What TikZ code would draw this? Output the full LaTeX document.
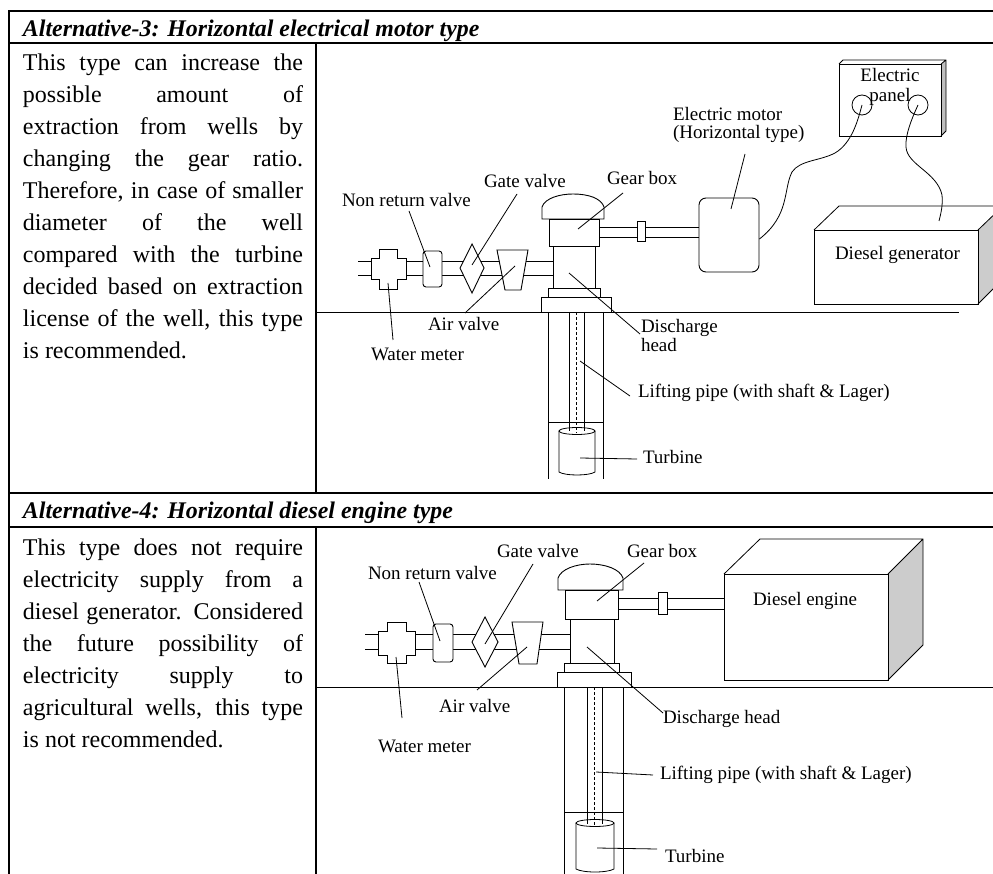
\documentclass[tikz,border=0pt]{standalone}
\usepackage{fontspec}
\setmainfont{Liberation Serif}
\usetikzlibrary{positioning, calc}
\definecolor{SideGray}{RGB}{204,204,204}
\newcommand{\jl}[1]{\hbox to 280pt{#1}}
\tikzset{
  part/.style={draw=black, fill=white, line width=0.9pt},
  wire/.style={draw=black, line width=0.8pt},
  rule/.style={draw=black, line width=1.9pt},
  lab/.style={font=\fontsize{19}{20}\selectfont, inner sep=0pt, outer sep=0pt, anchor=base west, align=left},
  body/.style={font=\fontsize{24}{32}\selectfont, inner sep=0pt, outer sep=0pt, anchor=north west, align=left},
  head/.style={font=\fontsize{23.85}{28}\selectfont\bfseries\itshape, inner sep=0pt, outer sep=0pt, anchor=base west}
}
\begin{document}
\begin{tikzpicture}[x=1pt,y=-1pt]
  \useasboundingbox (0,0) rectangle (993,874);
  \clip (0,0) rectangle (993,874);

  % table rules
  \draw[rule] (993,11) -- (9,11) -- (9,874);
  \draw[rule] (9,43) -- (993,43);
  \draw[rule] (316,43) -- (316,493);
  \draw[rule] (9,493) -- (993,493);
  \draw[rule] (9,527) -- (993,527);
  \draw[rule] (316,527) -- (316,874);

  \node[head] (headA) at (23,37) {Alternative-3: Horizontal electrical motor type};
  \node[head] (headB) at (23,518) {Alternative-4: Horizontal diesel engine type};

  \node[body] (textA) at (23,54) {\jl{This type can increase the}\\ \jl{possible amount of}\\
    \jl{extraction from wells by}\\ \jl{changing the gear ratio.}\\
    \jl{Therefore, in case of smaller}\\ \jl{diameter of the well}\\
    \jl{compared with the turbine}\\ \jl{decided based on extraction}\\
    \jl{license of the well, this type}\\ is recommended.};
  \node[body] (textB) at (23,538.5) {\jl{This type does not require}\\ \jl{electricity supply from a}\\
    \jl{diesel generator. Considered}\\ \jl{the future possibility of}\\
    \jl{electricity supply to}\\ \jl{agricultural wells, this type}\\ is not recommended.};

  % Alternative-3
  \draw[wire] (316,312) -- (959,312);
  \draw[wire] (358,261) -- (553,261) (358,275) -- (553,275);
  \draw[wire] (599,227) -- (699,227) (599,237) -- (699,237);
  \draw[part] (371,258) -- (379,258) -- (379,249) -- (397,249) -- (397,258) -- (406,258) -- (406,279) -- (397,279) -- (397,289) -- (379,289) -- (379,279) -- (371,279) -- cycle;
  \draw[part, rounded corners=3pt] (423,251) rectangle (442,287);
  \draw[part] (472,244) -- (484,268) -- (472,293) -- (460,268) -- cycle;
  \draw[part] (497,250) -- (528,250) -- (521,290) -- (505,290) -- cycle;
  \draw[part] (542,219) -- (542,207) .. controls (545,198) and (560,194) .. (573,194) .. controls (588,194) and (601,198) .. (604,207) -- (604,219) -- cycle;
  \draw[part] (549,219) rectangle (599,246);
  \draw[part] (553,246) rectangle (595,288);
  \draw[part] (548,288) rectangle (600,297);
  \draw[part] (541,297) rectangle (611,312);
  \draw[part] (637,221) rectangle (645,241);
  \draw[wire] (548,312) -- (548,479) (603,312) -- (603,479);
  \draw[wire] (569,312) -- (569,431) (584,312) -- (584,431);
  \draw[wire, dash pattern=on 3pt off 2pt] (576,312) -- (576,433);
  \draw[wire] (548,422) -- (603,422);
  \draw[wire] (559,431) -- (559,472) .. controls (565,476) and (589,476) .. (595,472) -- (595,431);
  \draw[wire] (577,431) ellipse (18 and 3.5);

  \node[part, rounded corners=7pt, minimum width=60pt, minimum height=74pt, inner sep=0pt] (motorA) at (729,235) {};
  \fill[black!25] (946,60) -- (946,131) -- (941,136) -- (941,64) -- cycle;
  \draw[wire] (839,64) -- (843,60) -- (946,60) -- (946,131) -- (941,136) (941,64) -- (946,60);
  \draw[part, fill=none] (839,64) rectangle (941,136);
  \node[draw=black, line width=0.8pt, circle, minimum size=20pt, inner sep=0pt] (sockA) at (862,105) {};
  \node[draw=black, line width=0.8pt, circle, minimum size=20pt, inner sep=0pt] (sockB) at (918,105) {};

  \fill[SideGray] (978,230) -- (1003,206) -- (1003,279) -- (978,304) -- cycle;
  \draw[wire] (814,230) -- (839,206) -- (1003,206) -- (1003,279) -- (978,304) (978,230) -- (1003,206);
  \draw[part, fill=none] (814,230) rectangle (978,304);
  \coordinate (genEnd) at (939,221);
  \draw[wire] (sockA.center) .. controls (858,120) and (852,143) .. (835,153) .. controls (820,161) and (800,160) .. (792,172) .. controls (783,190) and (790,215) .. ([yshift=-4pt]motorA.east);
  \draw[wire] (sockB.center) .. controls (912,118) and (905,135) .. (906,147) .. controls (907,165) and (937,172) .. (942,195) .. controls (943,205) and (941,213) .. (genEnd);

  \node[lab] (gearA) at (607,185) {Gear box};
  \node[lab] (gateA) at (484,188) {Gate valve};
  \node[lab] (checkA) at (342,207) {Non return valve};
  \node[lab] (meterA) at (371,360) {Water meter};
  \node[lab] (airA) at (428,331) {Air valve};
  \node[lab] (headpA) at (641,352) {Discharge\\[-1pt]head};
  \node[lab] (pipeA) at (638,398) {Lifting pipe (with shaft \& Lager)};
  \node[lab] (turbA) at (643,463) {Turbine};
  \node[lab] (elecA) at (673,139) {Electric motor\\[-2pt](Horizontal type)};
  \node[lab, align=center, anchor=base] (panelA) at (890,102) {Electric\\panel};
  \node[lab] (dieselA) at (835,260) {Diesel generator};

  \coordinate (tipGearA) at (578,229);
  \coordinate (tipGateA) at (472,265);
  \coordinate (tipCheckA) at (430,267);
  \coordinate (tipMeterA) at (388,283);
  \coordinate (tipAirA) at (515,266);
  \coordinate (tipHeadpA) at (569,273);
  \coordinate (tipPipeA) at (580,361);
  \coordinate (tipTurbA) at (580,458);
  \coordinate (tipElecA) at (731,209);

  % Alternative-4
  \draw[wire] (316,687) -- (993,687);
  \draw[wire] (365,634) -- (570,634) (365,649) -- (570,649);
  \draw[wire] (618,598) -- (724,598) (618,609) -- (724,609);
  \draw[part] (378,631) -- (387,631) -- (387,622) -- (406,622) -- (406,631) -- (415,631) -- (415,655) -- (406,655) -- (406,663) -- (387,663) -- (387,655) -- (378,655) -- cycle;
  \draw[part, rounded corners=3pt] (433,624) rectangle (453,662);
  \draw[part] (485,617) -- (498,642) -- (485,667) -- (472,642) -- cycle;
  \draw[part] (512,622) -- (543,622) -- (537,664) -- (519,664) -- cycle;
  \draw[part] (558,590) -- (558,578) .. controls (561,569) and (576,564) .. (590,564) .. controls (605,564) and (620,569) .. (623,578) -- (623,590) -- cycle;
  \draw[part] (565,590) rectangle (618,619);
  \draw[part] (570,619) rectangle (614,663);
  \draw[part] (564,663) rectangle (619,672);
  \draw[part] (557,672) rectangle (631,687);
  \draw[part] (658,592) rectangle (667,614);
  \draw[wire] (564,687) -- (564,874) (623,687) -- (623,874);
  \draw[wire] (587,687) -- (587,824) (602,687) -- (602,824);
  \draw[wire, dash pattern=on 3pt off 2pt] (594,687) -- (594,826);
  \draw[wire] (564,812) -- (623,812);
  \draw[wire] (576,823) -- (576,869) .. controls (583,873) and (607,873) .. (614,869) -- (614,823);
  \draw[wire] (595,823) ellipse (19 and 3.5);

  \fill[SideGray] (888,574) -- (923,539) -- (923,645) -- (888,680) -- cycle;
  \draw[wire] (724,574) -- (760,539) -- (923,539) -- (923,645) -- (888,680) (888,574) -- (923,539);
  \draw[part, fill=none] (724,574) rectangle (888,680);

  \node[lab] (gearB) at (627,557) {Gear box};
  \node[lab] (gateB) at (497,557) {Gate valve};
  \node[lab] (checkB) at (368,579) {Non return valve};
  \node[lab] (meterB) at (378,752) {Water meter};
  \node[lab] (airB) at (439,712) {Air valve};
  \node[lab] (headpB) at (663,723) {Discharge head};
  \node[lab] (pipeB) at (660,779) {Lifting pipe (with shaft \& Lager)};
  \node[lab] (turbB) at (665,862) {Turbine};
  \node[lab] (dieselB) at (753,605) {Diesel engine};

  \coordinate (tipGearB) at (597,601);
  \coordinate (tipGateB) at (485,644);
  \coordinate (tipCheckB) at (440,641);
  \coordinate (tipMeterB) at (396,657);
  \coordinate (tipAirB) at (527,647);
  \coordinate (tipHeadpB) at (587,647);
  \coordinate (tipPipeB) at (596,772);
  \coordinate (tipTurbB) at (597,848);

  % leader lines
  \foreach \lab/\dx/\dy/\tip in {
    gearA/16/8/tipGearA, gateA/33/6/tipGateA, checkA/67/4/tipCheckA,
    meterA/22/-20/tipMeterA, airA/37/-18/tipAirA, headpA/-1/-18/tipHeadpA,
    pipeA/-8/-2/tipPipeA, turbA/-6/-4/tipTurbA, elecA/72/15/tipElecA,
    gearB/17/6/tipGearB, gateB/36/7/tipGateB, checkB/51/3/tipCheckB,
    meterB/24/-34/tipMeterB, airB/38/-22/tipAirB, headpB/0/-10/tipHeadpB,
    pipeB/-7/-4/tipPipeB, turbB/-8/-13/tipTurbB}{
    \draw[wire] ([shift={(\dx,\dy)}]\lab.base west) -- (\tip);
  }
\end{tikzpicture}
\end{document}
